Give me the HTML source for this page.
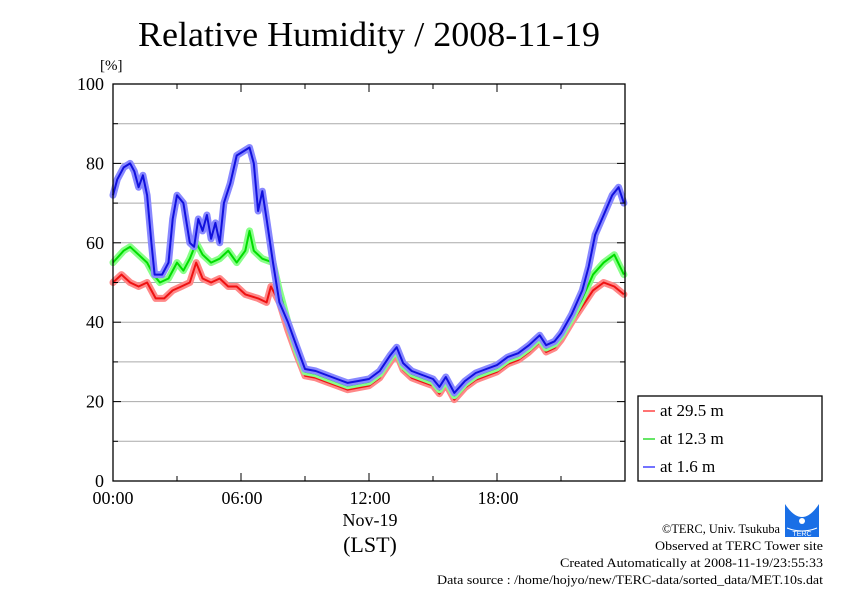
<!DOCTYPE html>
<html><head><meta charset="utf-8"><style>
body{margin:0;background:#fff;}
svg{display:block;font-family:"Liberation Serif",serif;}
</style></head><body>
<svg id="s" width="842" height="595" viewBox="0 0 842 595" xmlns="http://www.w3.org/2000/svg">
<rect width="842" height="595" fill="#fff"/>
<text x="138" y="46" font-size="35" textLength="462" lengthAdjust="spacingAndGlyphs">Relative Humidity / 2008-11-19</text>
<text x="100" y="70" font-size="15">[%]</text>
<g id="grid" stroke="#aaa" stroke-width="1"></g>
<g id="data"></g>
<rect x="113" y="84" width="512" height="397" fill="none" stroke="#000" stroke-width="1.3"/>
<g id="ticks" stroke="#000" stroke-width="1"></g>
<g font-size="18" text-anchor="end" id="ylab"></g>
<g font-size="18" text-anchor="middle">
<text x="113" y="504">00:00</text><text x="242" y="504">06:00</text><text x="370" y="504">12:00</text><text x="498" y="504">18:00</text>
<text x="370" y="526">Nov-19</text>
<text x="370" y="552" font-size="22">(LST)</text>
</g>
<rect x="638" y="396" width="184" height="85" fill="#fff" stroke="#000" stroke-width="1.3"/>
<g font-size="17">
<line x1="643" y1="411" x2="655" y2="411" stroke="#f44" stroke-width="1.5"/><text x="660" y="416">at 29.5 m</text>
<line x1="643" y1="439" x2="655" y2="439" stroke="#3d3" stroke-width="1.5"/><text x="660" y="444">at 12.3 m</text>
<line x1="643" y1="467" x2="655" y2="467" stroke="#44f" stroke-width="1.5"/><text x="660" y="472">at 1.6 m</text>
</g>
<g>
<rect x="785" y="504" width="34" height="33" fill="#1a6fe6"/>
<path d="M785 504 Q802 530 819 504 Z" fill="#fff"/>
<circle cx="802" cy="521" r="3" fill="#fff"/>
<path d="M787 528 Q802 534 817 528" stroke="#fff" fill="none"/>
<text x="802" y="536" font-size="7" fill="#fff" text-anchor="middle" font-family="Liberation Sans,sans-serif">TERC</text>
</g>
<g font-size="13">
<text x="662" y="533" textLength="118" lengthAdjust="spacingAndGlyphs">©TERC, Univ. Tsukuba</text>
<text x="655" y="550" textLength="168" lengthAdjust="spacingAndGlyphs">Observed at TERC Tower site</text>
<text x="560" y="567" textLength="263" lengthAdjust="spacingAndGlyphs">Created Automatically at 2008-11-19/23:55:33</text>
<text x="437" y="584" textLength="386" lengthAdjust="spacingAndGlyphs">Data source : /home/hojyo/new/TERC-data/sorted_data/MET.10s.dat</text>
</g>
</svg>
<script>
var NS="http://www.w3.org/2000/svg";
function el(p,t,a){var e=document.createElementNS(NS,t);for(var k in a)e.setAttribute(k,a[k]);p.appendChild(e);return e;}
var X=function(h){return 113+h*512/24},Y=function(v){return 481-v*3.97};
var g=document.getElementById('grid'),tk=document.getElementById('ticks'),yl=document.getElementById('ylab');
for(var v=10;v<100;v+=10)el(g,'line',{x1:113,x2:625,y1:Y(v),y2:Y(v)});
for(var v=0;v<=100;v+=10){var l=v%20==0?8:5;el(tk,'line',{x1:113,x2:113+l,y1:Y(v),y2:Y(v)});el(tk,'line',{x1:625-l,x2:625,y1:Y(v),y2:Y(v)});
if(v%20==0){var t=el(yl,'text',{x:104,y:Y(v)+6});t.textContent=v;}}
for(var h=0;h<=24;h+=3){var l=h%6==0?8:5;el(tk,'line',{x1:X(h),x2:X(h),y1:481,y2:481-l});el(tk,'line',{x1:X(h),x2:X(h),y1:84,y2:84+l});}
var common=[[9,27.5],[9.5,27],[10,26],[10.5,25],[11,24],[11.5,24.5],[12,25],[12.5,27],[13,31],[13.3,33],[13.6,29],[14,27],[14.5,26],[15,25],[15.3,23],[15.6,25.5],[16,21.5],[16.5,24.5],[17,26.5],[17.5,27.5],[18,28.5],[18.5,30.5],[19,31.5],[19.5,33.5],[20,36],[20.3,33.5],[20.7,34.5],[21,36.5]];
var blue=[[0,72],[0.2,76],[0.5,79],[0.8,80],[1,78],[1.2,74],[1.4,77],[1.6,72],[1.8,60],[1.95,52],[2.3,52],[2.6,55],[2.8,66],[3,72],[3.3,70],[3.6,60],[3.8,59],[4,66],[4.2,63],[4.4,67],[4.6,61],[4.8,65],[5,60],[5.2,70],[5.5,75],[5.8,82],[6.4,84],[6.6,80],[6.8,68],[7,73],[7.2,66],[7.5,55],[7.8,45],[8.2,40],[8.6,34]].concat(common.map(function(p){return[p[0],p[1]+0.7]})).concat([[21.5,42],[22,48],[22.3,54],[22.6,62],[23,67],[23.4,72],[23.7,74],[23.95,70]]);
var green=[[0,55],[0.5,58],[0.8,59],[1.2,57],[1.6,55],[1.9,52],[2.2,50],[2.6,51],[3,55],[3.3,53],[3.6,56],[3.9,60],[4.2,57],[4.6,55],[5,56],[5.4,58],[5.8,55],[6.2,58],[6.4,63],[6.6,58],[7,56],[7.5,55],[7.8,48],[8.2,40],[8.6,33]].concat(common).concat([[21.5,41],[22,46],[22.5,52],[23,55],[23.5,57],[23.95,52]]);
var red=[[0,50],[0.4,52],[0.8,50],[1.2,49],[1.6,50],[2,46],[2.4,46],[2.8,48],[3.2,49],[3.6,50],[3.9,55],[4.2,51],[4.6,50],[5,51],[5.4,49],[5.8,49],[6.2,47],[6.8,46],[7.2,45],[7.4,49],[7.8,45],[8.2,38],[8.6,32]].concat(common.map(function(p){return[p[0],p[1]-1]})).concat([[21.5,40],[22,44],[22.5,48],[23,50],[23.5,49],[23.95,47]]);
var d=document.getElementById('data');
function draw(pts,halo,col){var s=pts.map(function(p){return X(p[0]).toFixed(1)+','+Y(p[1]).toFixed(1)}).join(' ');
el(d,'polyline',{points:s,fill:'none',stroke:halo,'stroke-width':7,'stroke-linejoin':'round','stroke-linecap':'round'});
el(d,'polyline',{points:s,fill:'none',stroke:col,'stroke-width':2,'stroke-linejoin':'round'});}
draw(red,'#ff8888','#ee1111');draw(green,'#88ff88','#00dd00');draw(blue,'#8888ff','#1111dd');
</script>
</body></html>
